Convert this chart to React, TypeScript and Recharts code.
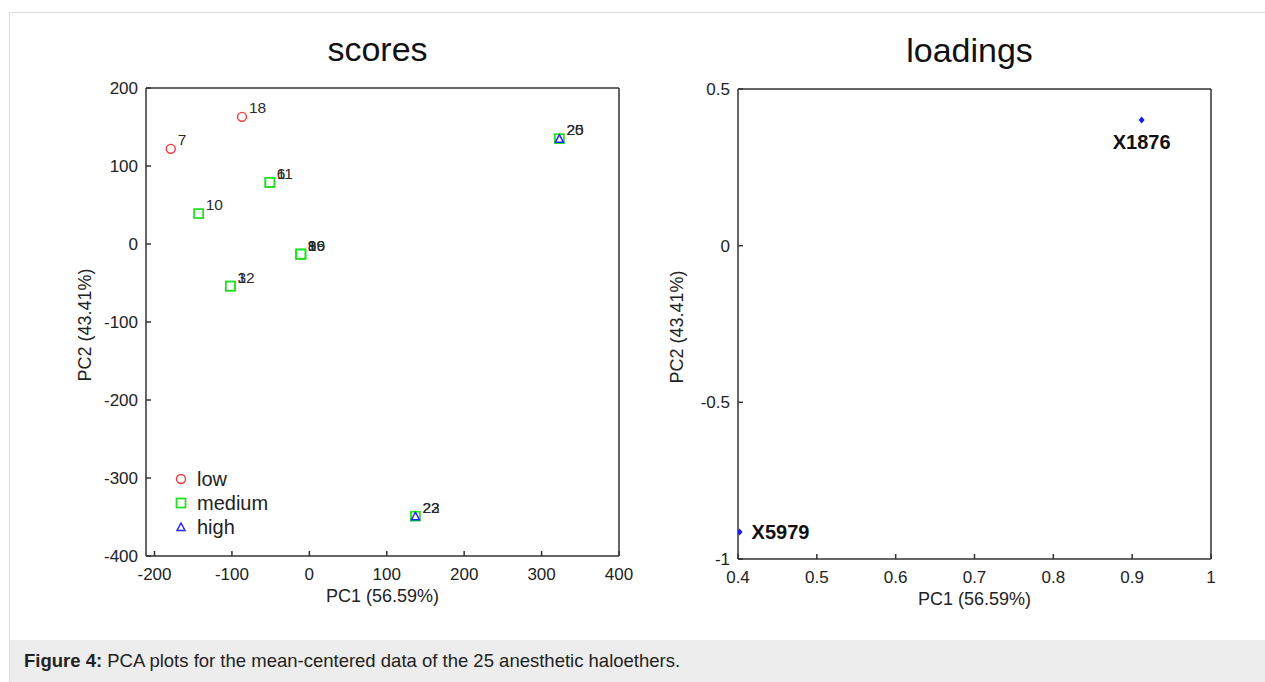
import { Label, Legend, Scatter, ScatterChart, XAxis, YAxis } from "recharts"

type Point = { x: number; y: number; label: string }

const groupNames = ["low", "medium", "high"]

// scores plot (PC1 vs PC2), labels are compound numbers
const lowScores: Point[] = [
  { x: -179, y: 122, label: "7" },
  { x: -87, y: 163, label: "18" },
]

const mediumScores: Point[] = [
  { x: -143, y: 39, label: "10" },
  { x: -51, y: 79, label: "6" },
  { x: -51, y: 79, label: "11" },
  { x: -11, y: -13, label: "8" },
  { x: -11, y: -13, label: "9" },
  { x: -11, y: -13, label: "16" },
  { x: -11, y: -13, label: "19" },
  { x: -102, y: -54, label: "3" },
  { x: -102, y: -54, label: "12" },
  { x: 323, y: 135, label: "20" },
  { x: 137, y: -349, label: "23" },
]

const highScores: Point[] = [
  { x: 323, y: 135, label: "25" },
  { x: 137, y: -349, label: "22" },
]

const scoreXTicks = [-200, -100, 0, 100, 200, 300, 400]
const scoreYTicks = [-400, -300, -200, -100, 0, 100, 200]

// loadings plot
const loadings: Point[] = [
  { x: 0.912, y: 0.401, label: "X1876" },
  { x: 0.402, y: -0.914, label: "X5979" },
]

const loadingXTicks = [0.4, 0.5, 0.6, 0.7, 0.8, 0.9, 1]
const loadingYTicks = [-1, -0.5, 0, 0.5]

const font = '"Liberation Sans", Arial, Helvetica, sans-serif'
const ink = "#222"
const frame = "#333"
const groupColors: Record<string, string> = { low: "#ff3434", medium: "#1ee01e", high: "#2424ff" }

function marker(group: string, cx: number, cy: number) {
  const color = groupColors[group]
  if (group === "low") {
    return <circle cx={cx} cy={cy} r={4.5} fill="none" stroke={color} strokeWidth={1.4} />
  }
  if (group === "medium") {
    return <rect x={cx - 4.5} y={cy - 4.5} width={9} height={9} fill="#fff" stroke={color} strokeWidth={1.7} />
  }
  return (
    <polygon
      points={`${cx},${cy - 4} ${cx + 4},${cy + 3.5} ${cx - 4},${cy + 3.5}`}
      fill="#fff"
      stroke={color}
      strokeWidth={1.5}
    />
  )
}

function scoreShape(group: string) {
  return (props: any) => (
    <g>
      {marker(group, props.cx, props.cy)}
      <text x={props.cx + 7} y={props.cy - 9} dominantBaseline="central" fontSize={15.5} fill="#2a2a2a">
        {props.payload.label}
      </text>
    </g>
  )
}

const loadingLabelSide: Record<string, "below" | "right"> = { X1876: "below", X5979: "right" }

function loadingShape(props: any) {
  const { cx, cy } = props
  const side = loadingLabelSide[props.payload.label]
  return (
    <g>
      <polygon points={`${cx},${cy - 3.5} ${cx + 3},${cy} ${cx},${cy + 3.5} ${cx - 3},${cy}`} fill="#1a1aff" />
      <text
        x={side === "below" ? cx : cx + 12}
        y={side === "below" ? cy + 22 : cy}
        textAnchor={side === "below" ? "middle" : "start"}
        dominantBaseline="central"
        fontSize={20}
        fontWeight="bold"
        fill="#111"
      >
        {props.payload.label}
      </text>
    </g>
  )
}

function ScoreLegend({ payload }: { payload?: any[] }) {
  const items = [...(payload ?? [])].sort((a, b) => groupNames.indexOf(a.value) - groupNames.indexOf(b.value))
  return (
    <div style={{ fontSize: 20, color: ink, fontFamily: font }}>
      {items.map((entry) => (
        <div key={entry.value} style={{ display: "flex", alignItems: "center", height: 24 }}>
          <svg width={14} height={14} style={{ overflow: "visible" }}>
            {marker(entry.value, 7, 7)}
          </svg>
          <span style={{ marginLeft: 9 }}>{entry.value}</span>
        </div>
      ))}
    </div>
  )
}

function yTitle(text: string) {
  return ({ viewBox }: any) => {
    const cx = viewBox.x + viewBox.width - 55
    const cy = viewBox.y + viewBox.height / 2 + 3
    return (
      <text x={cx} y={cy} transform={`rotate(-90 ${cx} ${cy})`} textAnchor="middle" fontSize={18} fill={ink}>
        {text}
      </text>
    )
  }
}

function plotTitle(text: string) {
  return ({ viewBox }: any) => (
    <text x={viewBox.x + viewBox.width / 2 - 5} y={viewBox.y - 26} textAnchor="middle" fontSize={34} fill="#111">
      {text}
    </text>
  )
}

function boxAxes(
  xDomain: [number, number],
  yDomain: [number, number],
  xTicks: number[],
  yTicks: number[],
  title: string,
) {
  const line = { stroke: frame, strokeWidth: 1.5 }
  const tick = { fill: ink, fontSize: 17 }
  return [
    <XAxis
      key="xb"
      xAxisId="b"
      type="number"
      dataKey="x"
      domain={xDomain}
      ticks={xTicks}
      interval={0}
      allowDataOverflow
      height={55}
      tickSize={-5}
      tickMargin={17}
      axisLine={line}
      tickLine={line}
      tick={tick}
    >
      <Label value="PC1 (56.59%)" position="insideBottom" offset={9} fontSize={18} fill={ink} />
    </XAxis>,
    <XAxis
      key="xt"
      xAxisId="t"
      orientation="top"
      type="number"
      dataKey="x"
      domain={xDomain}
      ticks={xTicks}
      interval={0}
      allowDataOverflow
      height={1}
      tickSize={-5}
      axisLine={line}
      tickLine={line}
      tick={false}
    >
      <Label content={plotTitle(title)} />
    </XAxis>,
    <YAxis
      key="yl"
      yAxisId="l"
      type="number"
      dataKey="y"
      domain={yDomain}
      ticks={yTicks}
      interval={0}
      allowDataOverflow
      width={60}
      tickSize={-5}
      tickMargin={13}
      axisLine={line}
      tickLine={line}
      tick={tick}
    >
      <Label content={yTitle("PC2 (43.41%)")} />
    </YAxis>,
    <YAxis
      key="yr"
      yAxisId="r"
      orientation="right"
      type="number"
      dataKey="y"
      domain={yDomain}
      ticks={yTicks}
      interval={0}
      allowDataOverflow
      width={1}
      tickSize={-5}
      axisLine={line}
      tickLine={line}
      tick={false}
    />,
  ]
}

export default function App() {
  return (
    <div
      style={{
        position: "absolute",
        left: 0,
        top: 0,
        width: 1265,
        height: 682,
        overflow: "hidden",
        background: "#fff",
        fontFamily: font,
      }}
    >
      <div
        style={{
          position: "absolute",
          left: 9,
          top: 12,
          width: 1270,
          height: 680,
          border: "1px solid #dcdcdc",
          boxSizing: "border-box",
        }}
      />
      <div style={{ position: "absolute", left: 0, top: 0 }}>
        <ScatterChart width={640} height={620} margin={{ top: 87, right: 20, bottom: 9, left: 86 }}>
          {boxAxes([-211, 400], [-400, 200], scoreXTicks, scoreYTicks, "scores")}
          <Legend
            layout="vertical"
            align="center"
            verticalAlign="middle"
            content={<ScoreLegend />}
            wrapperStyle={{ left: 174, top: 467, width: 120 }}
          />
          <Scatter name="low" data={lowScores} xAxisId="b" yAxisId="l" shape={scoreShape("low")} isAnimationActive={false} />
          <Scatter name="medium" data={mediumScores} xAxisId="b" yAxisId="l" shape={scoreShape("medium")} isAnimationActive={false} />
          <Scatter name="high" data={highScores} xAxisId="b" yAxisId="l" shape={scoreShape("high")} isAnimationActive={false} />
        </ScatterChart>
      </div>
      <div style={{ position: "absolute", left: 620, top: 0 }}>
        <ScatterChart width={620} height={620} margin={{ top: 88, right: 28, bottom: 6, left: 58 }}>
          {boxAxes([0.4, 1], [-1, 0.5], loadingXTicks, loadingYTicks, "loadings")}
          <Scatter name="loadings" data={loadings} xAxisId="b" yAxisId="l" shape={loadingShape} isAnimationActive={false} />
        </ScatterChart>
      </div>
      <div
        style={{
          position: "absolute",
          left: 10,
          top: 640,
          width: 1260,
          height: 42,
          background: "#ededed",
          fontSize: 18.5,
          color: "#222",
          lineHeight: "42px",
          paddingLeft: 14,
          boxSizing: "border-box",
        }}
      >
        <b>Figure 4:</b> PCA plots for the mean-centered data of the 25 anesthetic haloethers.
      </div>
    </div>
  )
}
